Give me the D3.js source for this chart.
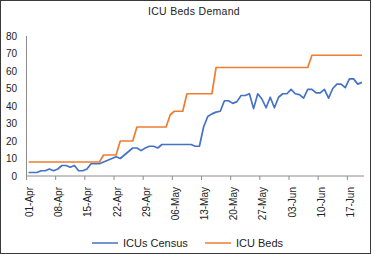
<!DOCTYPE html>
<html>
<head>
<meta charset="utf-8">
<script src="https://cdn.jsdelivr.net/npm/d3@7"></script>
<style>
  html, body { margin: 0; padding: 0; background: #fff; }
  svg { display: block; font-family: 'Liberation Sans', Arial, sans-serif; }
</style>
</head>
<body>
<svg id="chart" width="371" height="254"></svg>
<script>
// daily ICU census vs available ICU beds, 01-Apr .. 20-Jun
const startDate = new Date(2020, 3, 1);
const endDate = new Date(2020, 5, 21);
const days = d3.timeDay.range(startDate, endDate);
const fmt = d3.timeFormat('%d-%b');
const categories = days.map(d => fmt(d));

const icuCensus = [
  2, 2, 2, 3, 3, 4, 3, 4, 6, 6,
  5, 6, 3, 3, 4, 7, 7, 7, 8, 9,
  10, 11, 10, 12, 14, 16, 16, 14.5, 16, 17,
  17, 16, 18, 18, 18, 18, 18, 18, 18, 18,
  17, 17, 28, 34, 35.5, 36.5, 37, 43, 43, 41.5,
  42.5, 46, 46, 47, 38.5, 47, 44, 39, 45, 39,
  45, 47, 47, 49.5, 47, 46.5, 44.5, 49.5, 49.5, 47.5,
  47.5, 49.5, 44.5, 50, 52.5, 52.5, 50.5, 55.5, 55.5, 52.5, 53.5
];

const icuBeds = [
  8, 8, 8, 8, 8, 8, 8, 8, 8, 8,
  8, 8, 8, 8, 8, 8, 8, 8, 12, 12,
  12, 12, 20, 20, 20, 20, 28, 28, 28, 28,
  28, 28, 28, 28, 35, 37, 37, 37, 47, 47,
  47, 47, 47, 47, 47, 62, 62, 62, 62, 62,
  62, 62, 62, 62, 62, 62, 62, 62, 62, 62,
  62, 62, 62, 62, 62, 62, 62, 62, 69, 69,
  69, 69, 69, 69, 69, 69, 69, 69, 69, 69, 69
];

const yTicks = [0, 10, 20, 30, 40, 50, 60, 70, 80];
const seriesNames = ['ICUs Census', 'ICU Beds'];
const colors = ['#4472C4', '#ED7D31'];

const svg = d3.select('#chart');
const width = 371, height = 254;
const margin = { top: 36, right: 7, bottom: 78, left: 26.5 };

// frame
svg.append('rect')
  .attr('x', 0.5).attr('y', 0.5)
  .attr('width', width - 1).attr('height', height - 1)
  .attr('fill', '#fff').attr('stroke', '#3a3a3a');

svg.append('text')
  .attr('x', 194).attr('y', 15)
  .attr('text-anchor', 'middle')
  .attr('font-size', 10.5)
  .attr('letter-spacing', 0.3)
  .attr('fill', '#222')
  .text('ICU Beds Demand');

const x = d3.scaleBand()
  .domain(categories)
  .range([margin.left, width - margin.right])
  .padding(0);

const y = d3.scaleLinear()
  .domain([0, 80])
  .range([height - margin.bottom, margin.top]);

const xc = c => x(c) + x.bandwidth() / 2;

// y axis
svg.append('line')
  .attr('x1', margin.left).attr('x2', margin.left)
  .attr('y1', y(80)).attr('y2', y(0))
  .attr('stroke', '#8c8c8c');

svg.append('g').selectAll('text').data(yTicks).enter().append('text')
  .attr('x', 17)
  .attr('y', d => y(d))
  .attr('dy', '0.35em')
  .attr('text-anchor', 'end')
  .attr('font-size', 10)
  .attr('fill', '#222')
  .text(d => d);

// x axis, tick every 7 days between categories
svg.append('line')
  .attr('x1', margin.left).attr('x2', width - margin.right)
  .attr('y1', y(0)).attr('y2', y(0))
  .attr('stroke', '#8c8c8c');

const labelled = categories.filter((c, i) => i % 7 === 0);

svg.append('g').selectAll('line').data(labelled).enter().append('line')
  .attr('x1', d => x(d)).attr('x2', d => x(d))
  .attr('y1', y(0)).attr('y2', y(0) + 4)
  .attr('stroke', '#8c8c8c');

svg.append('g').selectAll('text').data(labelled).enter().append('text')
  .attr('transform', d => `translate(${xc(d) + 1},${y(0) + 11}) rotate(-90)`)
  .attr('dy', '0.35em')
  .attr('text-anchor', 'end')
  .attr('font-size', 10)
  .attr('fill', '#222')
  .text(d => d);

// series
const line = d3.line()
  .x((d, i) => xc(categories[i]))
  .y(d => y(d));

[icuCensus, icuBeds].forEach((vals, k) => {
  svg.append('path')
    .datum(vals)
    .attr('d', line)
    .attr('fill', 'none')
    .attr('stroke', colors[k])
    .attr('stroke-width', 1.7)
    .attr('stroke-linejoin', 'round');
});

// legend
const legendX = [92, 205];
const legendY = 243;
seriesNames.forEach((name, k) => {
  svg.append('line')
    .attr('x1', legendX[k]).attr('x2', legendX[k] + 26)
    .attr('y1', legendY).attr('y2', legendY)
    .attr('stroke', colors[k])
    .attr('stroke-width', 1.5);
  svg.append('text')
    .attr('x', legendX[k] + 31)
    .attr('y', legendY)
    .attr('dy', '0.35em')
    .attr('font-size', 11)
    .attr('fill', '#222')
    .text(name);
});
</script>
</body>
</html>
